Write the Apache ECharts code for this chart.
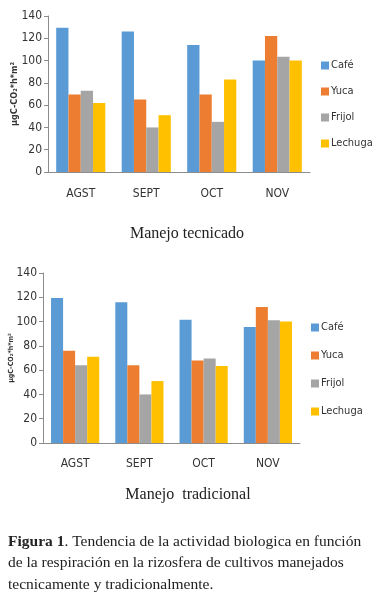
<!DOCTYPE html>
<html>
<head>
<meta charset="utf-8">
<script src="https://cdn.jsdelivr.net/npm/echarts@6/dist/echarts.min.js"></script>
<style>
  html, body { margin: 0; padding: 0; background: #fff; }
  #chart { width: 375px; height: 592px; }
</style>
</head>
<body>
<div id="chart"></div>
<script>
const months = ['AGST', 'SEPT', 'OCT', 'NOV']
const crops = ['Café', 'Yuca', 'Frijol', 'Lechuga']
const colors = ['#5b9bd5', '#ed7d31', '#a5a5a5', '#ffc000']

// Manejo tecnicado
const tecCafe = [129.5, 126, 114, 100]
const tecYuca = [69.5, 65, 69.5, 122]
const tecFrijol = [73, 40, 45, 103.5]
const tecLechuga = [62, 51, 83, 100]

// Manejo tradicional
const traCafe = [119.5, 116, 101.5, 95.5]
const traYuca = [76, 64, 68, 112]
const traFrijol = [64, 40, 69.5, 101]
const traLechuga = [71, 51, 63.5, 100]

const yTicks = [0, 20, 40, 60, 80, 100, 120, 140]
const yName = 'μgC-CO₂*h*m²'

const narrow = '"DejaVu Sans Condensed", "Liberation Sans Narrow", "Liberation Sans", sans-serif'
const serif = '"Liberation Serif", "DejaVu Serif", serif'

const chart = echarts.init(document.getElementById('chart'))

function xAxisFor (gridIndex, margin) {
  return {
    type: 'category',
    gridIndex,
    data: months,
    axisLine: { lineStyle: { color: '#8c8c8c' } },
    axisTick: { length: 4, lineStyle: { color: '#8c8c8c' } },
    axisLabel: { color: '#333', fontFamily: narrow, fontSize: 12, margin }
  }
}

function yAxisFor (gridIndex, nameSize, nameGap) {
  return {
    type: 'value',
    gridIndex,
    min: yTicks[0],
    max: yTicks[yTicks.length - 1],
    interval: 20,
    name: yName,
    nameLocation: 'middle',
    nameRotate: 90,
    nameGap,
    nameMoveOverlap: false,
    nameTextStyle: { color: '#333', fontFamily: narrow, fontSize: nameSize, fontWeight: 'bold' },
    axisLine: { show: true, lineStyle: { color: '#8c8c8c' } },
    axisTick: { show: true, length: 4, lineStyle: { color: '#8c8c8c' } },
    axisLabel: { color: '#333', fontFamily: narrow, fontSize: 12, margin: 6 },
    splitLine: { show: false }
  }
}

function seriesFor (idx, lists) {
  return lists.map((d, i) => ({
    name: crops[i],
    type: 'bar',
    xAxisIndex: idx,
    yAxisIndex: idx,
    data: d,
    barGap: '0%',
    barCategoryGap: '25%',
    itemStyle: { color: colors[i] },
    emphasis: { disabled: true }
  }))
}

function legendFor (left, top, gap) {
  return {
    orient: 'vertical',
    left,
    top,
    itemWidth: 8,
    itemHeight: 8,
    itemGap: gap,
    icon: 'rect',
    data: crops,
    textStyle: { color: '#333', fontFamily: narrow, fontSize: 11, padding: [0, 0, 0, -3] }
  }
}

const option = {
  animation: false,
  color: colors,
  grid: [
    { left: 48, right: 65, top: 16, height: 156, outerBoundsMode: 'none' },
    { left: 43, right: 75, top: 273, height: 170, outerBoundsMode: 'none' }
  ],
  xAxis: [xAxisFor(0, 16), xAxisFor(1, 15)],
  yAxis: [yAxisFor(0, 9, 29), yAxisFor(1, 7, 28)],
  legend: [legendFor(316, 55, 15), legendFor(306, 317, 17)],
  series: [
    ...seriesFor(0, [tecCafe, tecYuca, tecFrijol, tecLechuga]),
    ...seriesFor(1, [traCafe, traYuca, traFrijol, traLechuga])
  ],
  title: [
    {
      text: 'Manejo tecnicado',
      left: 182, top: 221, textAlign: 'center',
      textStyle: { fontFamily: serif, fontSize: 16, fontWeight: 'normal', color: '#222' }
    },
    {
      text: 'Manejo  tradicional',
      left: 183, top: 482, textAlign: 'center',
      textStyle: { fontFamily: serif, fontSize: 16, fontWeight: 'normal', color: '#222' }
    }
  ],
  graphic: [
    {
      type: 'text',
      left: 8,
      top: 531,
      style: {
        text: '{b|Figura 1}. Tendencia de la actividad biologica en función\nde la respiración en la rizosfera de cultivos manejados\ntecnicamente y tradicionalmente.',
        fontFamily: serif,
        fontSize: 15.5,
        lineHeight: 21.5,
        fill: '#222',
        rich: {
          b: { fontFamily: serif, fontSize: 15.5, fontWeight: 'bold', fill: '#222', lineHeight: 21.5 }
        }
      }
    }
  ]
}

chart.setOption(option)

window.addEventListener('resize', () => {
  chart.resize()
})
</script>
</body>
</html>
